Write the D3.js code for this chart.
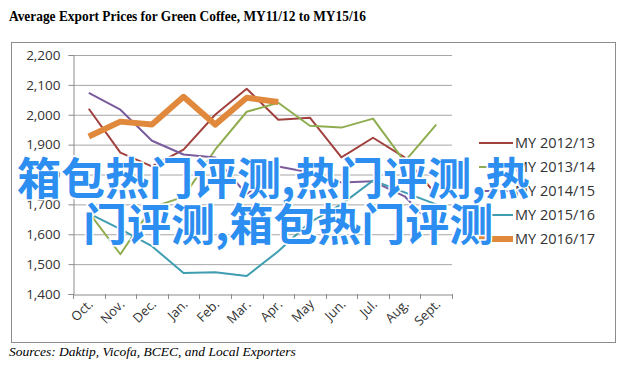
<!DOCTYPE html>
<html>
<head>
<meta charset="utf-8">
<script src="https://cdn.jsdelivr.net/npm/d3@7"></script>
<style>
  body { margin: 0; background: #fff; }
  svg { display: block; }
</style>
</head>
<body>
<svg id="chart"></svg>
<script>
// data
const months = ["Oct.", "Nov.", "Dec.", "Jan.", "Feb.", "Mar.", "Apr.", "May", "Jun.", "Jul.", "Aug.", "Sept."];
const seriesNames = ["MY 2012/13", "MY 2013/14", "MY 2014/15", "MY 2015/16", "MY 2016/17"];
const my1213 = [2020, 1873, 1827, 1883, 2000, 2087, 1983, 1990, 1857, 1923, 1857, 1733];
const my1314 = [1673, 1533, 1690, 1725, 1883, 2010, 2040, 1963, 1957, 1987, 1843, 1967];
const my1415 = [2073, 2017, 1913, 1867, 1857, 1733, 1827, 1807, 1773, 1777, 1727, 1617];
const my1516 = [1670, 1617, 1560, 1470, 1473, 1460, 1543, 1640, 1700, 1780, 1740, 1700];
const my1617 = [1927, 1977, 1967, 2060, 1967, 2057, 2043];
const yTicks = [1400, 1500, 1600, 1700, 1800, 1900, 2000, 2100, 2200];
const colors = ["#a0413e", "#8fad4f", "#7a5b9c", "#3f9db1", "#e0893c"];
const widths = [2, 2, 2, 2, 6];

const W = 628, H = 372;
const svg = d3.select("#chart").attr("width", W).attr("height", H);

// title
svg.append("text")
    .attr("x", 9).attr("y", 21)
    .attr("font-family", "Liberation Serif")
    .attr("font-weight", "bold")
    .attr("font-size", 15.5)
    .attr("textLength", 357)
    .attr("lengthAdjust", "spacingAndGlyphs")
    .text("Average Export Prices for Green Coffee, MY11/12 to MY15/16");

// outer frame
svg.append("rect")
    .attr("x", 11.5).attr("y", 42.5)
    .attr("width", 604).attr("height", 300)
    .attr("fill", "none").attr("stroke", "#8c8c8c");

const plotL = 73, plotR = 452, plotT = 55, plotB = 294;

const x = d3.scaleBand().domain(months).range([plotL, plotR]);
const y = d3.scaleLinear().domain([1400, 2200]).range([plotB, plotT]);

// gridlines
svg.append("g")
    .selectAll("line")
    .data(yTicks.slice(1))
    .join("line")
    .attr("x1", plotL).attr("x2", plotR)
    .attr("y1", d => y(d) + 0.5).attr("y2", d => y(d) + 0.5)
    .attr("stroke", "#a6a6a6");

// y axis
const yAxis = svg.append("g")
    .attr("transform", `translate(${plotL + 0.5},0)`)
    .call(d3.axisLeft(y).tickValues(yTicks).tickFormat(d3.format(",")).tickSize(5).tickPadding(8));
yAxis.select(".domain").attr("stroke", "#8c8c8c");
yAxis.selectAll(".tick line").attr("stroke", "#8c8c8c");
yAxis.selectAll("text")
    .attr("font-family", "Open Sans")
    .attr("font-size", 13.5)
    .attr("fill", "#333");

// x axis
const xAxis = svg.append("g")
    .attr("transform", `translate(0,${plotB + 0.5})`)
    .call(d3.axisBottom(x).tickSize(0).tickFormat(""));
xAxis.select(".domain").attr("stroke", "#8c8c8c");
svg.append("g")
    .selectAll("line")
    .data(months.concat(["end"]))
    .join("line")
    .attr("x1", (d, i) => Math.round(plotL + i * x.step()) + 0.5)
    .attr("x2", (d, i) => Math.round(plotL + i * x.step()) + 0.5)
    .attr("y1", plotB).attr("y2", plotB + 5)
    .attr("stroke", "#8c8c8c");
svg.append("g")
    .selectAll("text")
    .data(months)
    .join("text")
    .attr("transform", d => `translate(${x(d) + x.bandwidth() / 2 + 5},${plotB + 11}) rotate(-45)`)
    .attr("text-anchor", "end")
    .attr("font-family", "Open Sans")
    .attr("font-size", 13)
    .attr("fill", "#333")
    .text(d => d);

// lines
const series = [my1213, my1314, my1415, my1516, my1617];
const line = d3.line()
    .x((d, i) => x(months[i]) + x.bandwidth() / 2)
    .y(d => y(d));

svg.append("g")
    .selectAll("path")
    .data(series)
    .join("path")
    .attr("d", d => line(d))
    .attr("fill", "none")
    .attr("stroke", (d, i) => colors[i])
    .attr("stroke-width", (d, i) => widths[i])
    .attr("stroke-linejoin", "round");

// legend
const legend = svg.append("g")
    .selectAll("g")
    .data(seriesNames)
    .join("g")
    .attr("transform", (d, i) => `translate(479,${143 + i * 24})`);
legend.append("line")
    .attr("x1", 0).attr("x2", 34)
    .attr("stroke", (d, i) => colors[i])
    .attr("stroke-width", (d, i) => widths[i]);
legend.append("text")
    .attr("x", 36).attr("y", 5)
    .attr("font-family", "Open Sans")
    .attr("font-size", 14.5)
    .attr("fill", "#333")
    .text(d => d);

// source note
svg.append("text")
    .attr("x", 9).attr("y", 356)
    .attr("font-family", "Liberation Serif")
    .attr("font-style", "italic")
    .attr("font-size", 13.5)
    .text("Sources: Daktip, Vicofa, BCEC, and Local Exporters");

// watermark overlay
const wm = ["箱包热门评测,热门评测,热", "门评测,箱包热门评测"];
svg.append("g")
    .selectAll("text")
    .data(wm)
    .join("text")
    .attr("x", (d, i) => i === 0 ? 17 : 83)
    .attr("y", (d, i) => i === 0 ? 195 : 241)
    .attr("font-family", "Noto Sans CJK SC")
    .attr("font-weight", "bold")
    .attr("font-size", 44)
    .attr("fill", "#2b8ef0")
    .attr("stroke", "#fff")
    .attr("stroke-width", 3)
    .attr("paint-order", "stroke")
    .text(d => d);
</script>
</body>
</html>
